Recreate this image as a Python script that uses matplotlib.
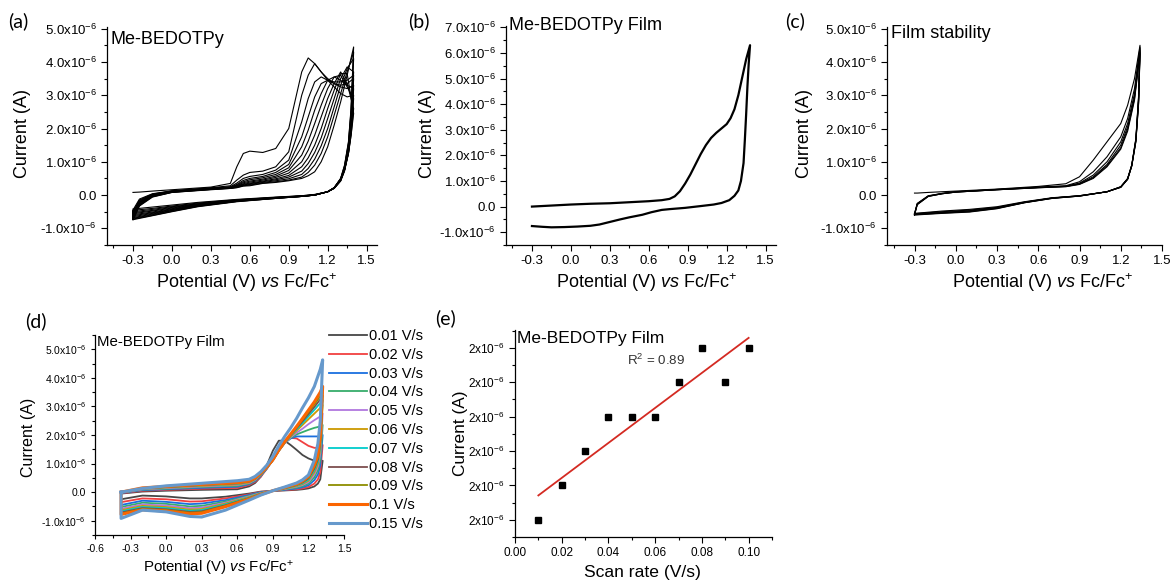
import numpy as np
import matplotlib
matplotlib.use('Agg')
import matplotlib.pyplot as plt
from matplotlib.ticker import MultipleLocator, FuncFormatter
from matplotlib.lines import Line2D

plt.rcParams['font.family'] = ['Liberation Sans', 'DejaVu Sans']
plt.rcParams['mathtext.fontset'] = 'custom'
plt.rcParams['mathtext.rm'] = 'Liberation Sans'
plt.rcParams['mathtext.it'] = 'Liberation Sans:italic'
plt.rcParams['mathtext.default'] = 'regular'

### DATA ######################################################################
# currents in units of 1e-6 A, potentials in V vs Fc/Fc+

# (a) electropolymerisation, 12 scans
Ea_fwd = [-0.30, -0.25, -0.15, 0.00, 0.30, 0.45, 0.50, 0.55, 0.60, 0.70, 0.80,
          0.90, 1.00, 1.05, 1.10, 1.15, 1.20, 1.25, 1.30, 1.35, 1.40]
Ia_fwd = [
    [0.08, 0.09, 0.12, 0.16, 0.24, 0.35, 0.85, 1.25, 1.32, 1.28, 1.40, 2.00, 3.70, 4.12, 3.95, 3.70, 3.45, 3.25, 3.05, 2.95, 3.00],
    [-0.45, -0.12, 0.04, 0.13, 0.22, 0.28, 0.45, 0.60, 0.68, 0.72, 0.85, 1.30, 3.00, 3.60, 3.95, 3.70, 3.50, 3.35, 3.25, 3.20, 3.30],
    [-0.50, -0.15, 0.03, 0.12, 0.21, 0.25, 0.36, 0.50, 0.56, 0.62, 0.75, 1.05, 2.20, 2.90, 3.40, 3.55, 3.45, 3.35, 3.30, 3.35, 3.50],
    [-0.53, -0.17, 0.02, 0.12, 0.20, 0.24, 0.32, 0.44, 0.50, 0.56, 0.68, 0.92, 1.75, 2.35, 2.95, 3.35, 3.45, 3.40, 3.40, 3.45, 3.60],
    [-0.56, -0.19, 0.01, 0.11, 0.20, 0.23, 0.30, 0.40, 0.46, 0.52, 0.62, 0.82, 1.45, 1.95, 2.55, 3.05, 3.45, 3.55, 3.45, 3.30, 3.20],
    [-0.59, -0.21, 0.00, 0.11, 0.19, 0.23, 0.28, 0.37, 0.42, 0.48, 0.57, 0.74, 1.20, 1.62, 2.15, 2.70, 3.20, 3.55, 3.60, 3.25, 2.90],
    [-0.62, -0.23, -0.01, 0.10, 0.19, 0.22, 0.27, 0.34, 0.39, 0.45, 0.53, 0.66, 1.00, 1.35, 1.80, 2.35, 2.90, 3.35, 3.70, 3.35, 2.60],
    [-0.65, -0.25, -0.02, 0.10, 0.18, 0.22, 0.26, 0.32, 0.36, 0.42, 0.49, 0.59, 0.85, 1.12, 1.50, 2.00, 2.60, 3.15, 3.65, 3.65, 2.45],
    [-0.68, -0.27, -0.03, 0.09, 0.18, 0.21, 0.25, 0.30, 0.34, 0.40, 0.46, 0.54, 0.72, 0.95, 1.28, 1.72, 2.30, 2.90, 3.50, 3.85, 3.70],
    [-0.70, -0.29, -0.04, 0.09, 0.17, 0.21, 0.24, 0.29, 0.32, 0.38, 0.43, 0.49, 0.62, 0.80, 1.08, 1.48, 2.00, 2.65, 3.30, 3.80, 4.10],
    [-0.72, -0.31, -0.05, 0.08, 0.17, 0.20, 0.23, 0.28, 0.30, 0.36, 0.40, 0.45, 0.54, 0.68, 0.90, 1.25, 1.75, 2.40, 3.05, 3.70, 4.30],
    [-0.74, -0.33, -0.06, 0.08, 0.16, 0.20, 0.22, 0.27, 0.28, 0.35, 0.38, 0.43, 0.50, 0.58, 0.70, 1.00, 1.45, 2.10, 2.80, 3.60, 4.45],
]
Ea_ret = [1.40, 1.38, 1.36, 1.33, 1.30, 1.25, 1.20, 1.10, 1.00, 0.80, 0.50, 0.20, 0.00, -0.15, -0.30]
Ia_ret = [
    [3.00, 1.90, 1.25, 0.72, 0.42, 0.20, 0.10, 0.02, -0.02, -0.06, -0.13, -0.22, -0.30, -0.36, -0.42],
    [3.30, 2.00, 1.30, 0.74, 0.43, 0.20, 0.10, 0.01, -0.02, -0.07, -0.14, -0.24, -0.33, -0.40, -0.46],
    [3.50, 2.10, 1.35, 0.76, 0.44, 0.21, 0.10, 0.01, -0.03, -0.07, -0.15, -0.26, -0.35, -0.43, -0.50],
    [3.60, 2.15, 1.38, 0.78, 0.45, 0.21, 0.10, 0.01, -0.03, -0.08, -0.15, -0.27, -0.37, -0.46, -0.53],
    [3.20, 2.00, 1.32, 0.77, 0.45, 0.21, 0.10, 0.00, -0.03, -0.08, -0.16, -0.28, -0.39, -0.48, -0.56],
    [2.90, 1.90, 1.28, 0.76, 0.45, 0.21, 0.10, 0.00, -0.03, -0.08, -0.16, -0.29, -0.41, -0.51, -0.59],
    [2.60, 1.80, 1.25, 0.76, 0.46, 0.22, 0.10, 0.00, -0.04, -0.09, -0.17, -0.30, -0.43, -0.53, -0.62],
    [2.45, 1.78, 1.25, 0.77, 0.47, 0.22, 0.10, 0.00, -0.04, -0.09, -0.17, -0.31, -0.44, -0.55, -0.65],
    [3.70, 2.30, 1.45, 0.82, 0.48, 0.22, 0.10, 0.00, -0.04, -0.09, -0.18, -0.32, -0.46, -0.57, -0.68],
    [4.10, 2.45, 1.52, 0.85, 0.49, 0.22, 0.10, 0.00, -0.04, -0.10, -0.19, -0.33, -0.47, -0.59, -0.70],
    [4.30, 2.55, 1.56, 0.88, 0.50, 0.22, 0.10, 0.00, -0.04, -0.10, -0.19, -0.34, -0.49, -0.61, -0.72],
    [4.45, 2.60, 1.60, 0.90, 0.50, 0.22, 0.10, 0.00, -0.04, -0.10, -0.20, -0.35, -0.50, -0.62, -0.74],
]

# (b) film CV
Eb_fwd = [-0.30, -0.15, 0.00, 0.15, 0.30, 0.45, 0.60, 0.70, 0.76, 0.80, 0.84, 0.88, 0.92, 0.96,
          1.00, 1.04, 1.08, 1.12, 1.16, 1.20, 1.23, 1.26, 1.29, 1.32, 1.35, 1.38]
Ib_fwd = [0.00, 0.04, 0.08, 0.11, 0.13, 0.17, 0.21, 0.25, 0.30, 0.40, 0.60, 0.90, 1.25, 1.65,
          2.05, 2.40, 2.68, 2.88, 3.05, 3.22, 3.45, 3.80, 4.35, 5.05, 5.75, 6.30]
Eb_ret = [1.38, 1.37, 1.36, 1.35, 1.34, 1.33, 1.31, 1.29, 1.26, 1.22, 1.16, 1.10, 1.00, 0.88,
          0.76, 0.70, 0.62, 0.55, 0.45, 0.38, 0.30, 0.22, 0.15, 0.05, -0.05, -0.15, -0.22, -0.30]
Ib_ret = [6.30, 5.60, 4.70, 3.60, 2.60, 1.70, 1.00, 0.63, 0.42, 0.25, 0.14, 0.08, 0.02, -0.05,
          -0.10, -0.13, -0.22, -0.32, -0.42, -0.50, -0.60, -0.70, -0.75, -0.78, -0.80, -0.81, -0.79, -0.76]

# (c) film stability, 6 scans
Ec_fwd = [-0.30, -0.28, -0.20, -0.10, 0.00, 0.30, 0.60, 0.80, 0.90, 1.00, 1.10, 1.20, 1.25, 1.30, 1.34]
Ic_fwd = [
    [0.06, 0.06, 0.08, 0.10, 0.12, 0.18, 0.26, 0.34, 0.55, 1.05, 1.60, 2.15, 2.70, 3.50, 4.50],
    [-0.56, -0.25, -0.02, 0.05, 0.10, 0.17, 0.24, 0.28, 0.40, 0.70, 1.15, 1.75, 2.30, 3.20, 4.45],
    [-0.57, -0.26, -0.03, 0.05, 0.10, 0.17, 0.23, 0.27, 0.36, 0.60, 1.00, 1.60, 2.15, 3.05, 4.40],
    [-0.58, -0.27, -0.03, 0.04, 0.09, 0.16, 0.23, 0.26, 0.34, 0.55, 0.92, 1.50, 2.05, 2.95, 4.35],
    [-0.59, -0.28, -0.04, 0.04, 0.09, 0.16, 0.22, 0.26, 0.33, 0.52, 0.88, 1.42, 1.98, 2.90, 4.30],
    [-0.60, -0.29, -0.04, 0.04, 0.09, 0.16, 0.22, 0.25, 0.32, 0.50, 0.85, 1.38, 1.92, 2.85, 4.25],
]
Ec_ret = [1.34, 1.33, 1.31, 1.28, 1.25, 1.20, 1.10, 0.90, 0.70, 0.50, 0.30, 0.10, -0.10, -0.30]
Ic_ret = [
    [4.50, 3.00, 1.70, 0.90, 0.50, 0.25, 0.10, -0.02, -0.08, -0.20, -0.35, -0.43, -0.48, -0.55],
    [4.45, 2.95, 1.68, 0.90, 0.49, 0.25, 0.10, -0.02, -0.09, -0.21, -0.37, -0.45, -0.50, -0.56],
    [4.40, 2.90, 1.66, 0.89, 0.49, 0.24, 0.10, -0.02, -0.09, -0.22, -0.38, -0.47, -0.52, -0.57],
    [4.35, 2.85, 1.64, 0.88, 0.48, 0.24, 0.10, -0.03, -0.09, -0.22, -0.39, -0.48, -0.53, -0.58],
    [4.30, 2.80, 1.62, 0.88, 0.48, 0.24, 0.10, -0.03, -0.10, -0.23, -0.40, -0.50, -0.54, -0.59],
    [4.25, 2.75, 1.60, 0.87, 0.47, 0.23, 0.10, -0.03, -0.10, -0.23, -0.41, -0.51, -0.55, -0.60],
]

# (d) scan-rate dependence
rates = ['0.01 V/s', '0.02 V/s', '0.03 V/s', '0.04 V/s', '0.05 V/s', '0.06 V/s',
         '0.07 V/s', '0.08 V/s', '0.09 V/s', '0.1 V/s', '0.15 V/s']
colors_d = ['#474747', '#F14040', '#1A6FDF', '#37AD6B', '#B177DE', '#CC9900',
            '#00CBCC', '#7D4E4E', '#8E8E00', '#FB6501', '#6699CC']
Ed_fwd = [-0.38, -0.20, 0.00, 0.30, 0.60, 0.70, 0.75, 0.80, 0.85, 0.90, 0.95, 1.00, 1.05,
          1.10, 1.15, 1.20, 1.25, 1.30, 1.32]
Id_fwd = [
    [-0.05, 0.02, 0.05, 0.08, 0.10, 0.20, 0.32, 0.55, 0.95, 1.45, 1.80, 1.80, 1.65, 1.48, 1.30, 1.18, 1.10, 1.05, 1.10],
    [-0.04, 0.05, 0.08, 0.12, 0.15, 0.25, 0.36, 0.55, 0.82, 1.15, 1.50, 1.78, 1.90, 1.88, 1.75, 1.62, 1.55, 1.55, 1.65],
    [-0.03, 0.07, 0.10, 0.15, 0.19, 0.28, 0.39, 0.58, 0.83, 1.12, 1.45, 1.72, 1.88, 1.95, 1.95, 1.95, 1.95, 1.95, 2.00],
    [-0.02, 0.09, 0.12, 0.18, 0.22, 0.30, 0.41, 0.60, 0.84, 1.12, 1.45, 1.72, 1.90, 2.02, 2.10, 2.18, 2.25, 2.30, 2.35],
    [-0.01, 0.10, 0.14, 0.20, 0.25, 0.32, 0.43, 0.62, 0.85, 1.12, 1.45, 1.72, 1.92, 2.08, 2.22, 2.38, 2.52, 2.65, 2.75],
    [0.00, 0.11, 0.16, 0.22, 0.27, 0.34, 0.45, 0.63, 0.86, 1.12, 1.45, 1.73, 1.95, 2.15, 2.35, 2.55, 2.75, 2.95, 3.05],
    [0.00, 0.12, 0.17, 0.24, 0.29, 0.36, 0.46, 0.64, 0.87, 1.12, 1.45, 1.74, 1.97, 2.20, 2.42, 2.65, 2.88, 3.12, 3.22],
    [0.00, 0.13, 0.18, 0.25, 0.31, 0.37, 0.47, 0.65, 0.87, 1.12, 1.46, 1.75, 1.99, 2.24, 2.48, 2.73, 2.98, 3.25, 3.38],
    [0.00, 0.14, 0.19, 0.26, 0.32, 0.38, 0.48, 0.66, 0.88, 1.12, 1.46, 1.76, 2.01, 2.27, 2.53, 2.80, 3.07, 3.36, 3.50],
    [0.00, 0.15, 0.20, 0.27, 0.33, 0.39, 0.49, 0.67, 0.89, 1.13, 1.47, 1.77, 2.03, 2.30, 2.58, 2.87, 3.16, 3.50, 3.70],
    [0.00, 0.13, 0.22, 0.31, 0.40, 0.45, 0.55, 0.72, 0.95, 1.25, 1.62, 1.95, 2.25, 2.58, 2.95, 3.30, 3.70, 4.30, 4.63],
]
Ed_ret = [1.32, 1.30, 1.28, 1.25, 1.20, 1.15, 1.10, 1.00, 0.90, 0.80, 0.70, 0.50, 0.30, 0.20, 0.00, -0.20, -0.38]
Id_ret = [
    [1.10, 0.45, 0.30, 0.20, 0.13, 0.10, 0.08, 0.06, 0.04, 0.02, -0.05, -0.16, -0.22, -0.22, -0.15, -0.12, -0.25],
    [1.65, 0.70, 0.45, 0.30, 0.18, 0.13, 0.10, 0.07, 0.05, 0.01, -0.08, -0.22, -0.32, -0.33, -0.25, -0.22, -0.35],
    [2.00, 0.95, 0.62, 0.42, 0.24, 0.17, 0.13, 0.08, 0.05, 0.00, -0.10, -0.28, -0.40, -0.42, -0.34, -0.30, -0.45],
    [2.35, 1.15, 0.77, 0.52, 0.30, 0.21, 0.16, 0.10, 0.05, -0.02, -0.13, -0.33, -0.48, -0.50, -0.41, -0.37, -0.52],
    [2.75, 1.35, 0.90, 0.62, 0.35, 0.25, 0.19, 0.11, 0.05, -0.03, -0.15, -0.37, -0.54, -0.56, -0.47, -0.43, -0.58],
    [3.05, 1.50, 1.00, 0.70, 0.40, 0.28, 0.21, 0.12, 0.05, -0.04, -0.17, -0.40, -0.59, -0.61, -0.52, -0.48, -0.63],
    [3.22, 1.62, 1.08, 0.77, 0.44, 0.31, 0.23, 0.13, 0.05, -0.05, -0.19, -0.43, -0.63, -0.65, -0.56, -0.52, -0.67],
    [3.38, 1.72, 1.15, 0.83, 0.48, 0.34, 0.25, 0.14, 0.05, -0.06, -0.21, -0.46, -0.67, -0.69, -0.60, -0.56, -0.71],
    [3.50, 1.82, 1.22, 0.88, 0.51, 0.36, 0.26, 0.15, 0.05, -0.07, -0.22, -0.48, -0.70, -0.72, -0.63, -0.59, -0.75],
    [3.70, 1.95, 1.30, 0.95, 0.55, 0.39, 0.28, 0.16, 0.05, -0.08, -0.24, -0.51, -0.74, -0.76, -0.66, -0.62, -0.78],
    [4.63, 2.50, 1.70, 1.12, 0.60, 0.43, 0.32, 0.18, 0.05, -0.10, -0.28, -0.63, -0.87, -0.85, -0.69, -0.63, -0.92],
]

# (e) peak current vs scan rate
scan_rate = [0.01, 0.02, 0.03, 0.04, 0.05, 0.06, 0.07, 0.08, 0.09, 0.10]
peak_current = [1.6, 1.7, 1.8, 1.9, 1.9, 1.9, 2.0, 2.1, 2.0, 2.1]

### FIGURE ####################################################################
W, H = 1172, 581
fig = plt.figure(figsize=(W / 100, H / 100), dpi=100)

def add_ax(l, t, r, b):
    ax = fig.add_axes([l / W, 1 - b / H, (r - l) / W, (b - t) / H])
    for s in ['top', 'right']:
        ax.spines[s].set_visible(False)
    for s in ['left', 'bottom']:
        ax.spines[s].set_linewidth(0.9)
    ax.tick_params(which='major', direction='out', length=4, width=0.8)
    ax.tick_params(which='minor', direction='out', length=2.5, width=0.8)
    return ax

def sci(v, pos):
    if abs(v) < 1e-9:
        return '0.0'
    return f'{v:.1f}x10$^{{-6}}$'

def cv_axis(ax, xlim, ylim, ymajor, fs):
    ax.set_xlim(*xlim)
    ax.set_ylim(*ylim)
    ax.xaxis.set_major_locator(MultipleLocator(0.3))
    ax.xaxis.set_minor_locator(MultipleLocator(0.15))
    ax.yaxis.set_major_locator(MultipleLocator(ymajor))
    ax.yaxis.set_minor_locator(MultipleLocator(ymajor / 2))
    ax.yaxis.set_major_formatter(FuncFormatter(sci))
    ax.xaxis.set_major_formatter(FuncFormatter(lambda v, p: f'{v:.1f}'))
    ax.tick_params(labelsize=fs)

def ftext(x, y, s, **kw):
    fig.text(x / W, 1 - y / H, s, **kw)

xlab = r'Potential (V) $\mathit{vs}$ Fc/Fc$^{+}$'

# (a)
ax_a = add_ax(107, 27, 377, 245)
for k in range(len(Ia_fwd)):
    ax_a.plot(Ea_fwd + Ea_ret, Ia_fwd[k] + Ia_ret[k], color='black', lw=0.8)
cv_axis(ax_a, (-0.5, 1.58), (-1.5, 5.05), 1.0, 9.5)
ax_a.set_xticks([-0.3, 0.0, 0.3, 0.6, 0.9, 1.2, 1.5])

# (b)
ax_b = add_ax(506, 26, 776, 245)
ax_b.plot(Eb_fwd + Eb_ret, Ib_fwd + Ib_ret, color='black', lw=1.6)
cv_axis(ax_b, (-0.5, 1.58), (-1.5, 7.05), 1.0, 9.5)
ax_b.set_xticks([-0.3, 0.0, 0.3, 0.6, 0.9, 1.2, 1.5])

# (c)
ax_c = add_ax(887, 27, 1162, 245)
for k in range(len(Ic_fwd)):
    ax_c.plot(Ec_fwd + Ec_ret, Ic_fwd[k] + Ic_ret[k], color='black', lw=0.8)
cv_axis(ax_c, (-0.5, 1.5), (-1.5, 5.05), 1.0, 9.5)
ax_c.set_xticks([-0.3, 0.0, 0.3, 0.6, 0.9, 1.2, 1.5])
for lab in ax_c.get_xticklabels():
    lab.set_clip_on(False)

# (d)
ax_d = add_ax(95, 335, 344, 535)
handles = []
for k in range(len(rates)):
    lw = 2.2 if k >= 9 else 1.3
    E = Ed_fwd + Ed_ret + [Ed_fwd[0]]
    I = Id_fwd[k] + Id_ret[k] + [Id_fwd[k][0]]
    ax_d.plot(E, I, color=colors_d[k], lw=lw)
    handles.append(Line2D([], [], color=colors_d[k], lw=lw, label=rates[k]))
cv_axis(ax_d, (-0.6, 1.5), (-1.5, 5.5), 1.0, 7.5)
ax_d.tick_params(which='major', length=3)
ax_d.tick_params(which='minor', length=2)
fig.legend(handles=handles, loc='upper left', bbox_to_anchor=(329 / W, 1 - 329 / H),
           frameon=False, fontsize=10.5, handlelength=2.6, handletextpad=0.15,
           labelspacing=0.33, borderpad=0, borderaxespad=0)

# (e)
ax_e = add_ax(515, 330, 772, 537)
slope, intercept = np.polyfit(scan_rate, peak_current, 1)
fit = np.polyval([slope, intercept], scan_rate)
r2 = 1 - np.sum((np.array(peak_current) - fit) ** 2) / np.sum((np.array(peak_current) - np.mean(peak_current)) ** 2)
ax_e.plot([scan_rate[0], scan_rate[-1]], np.polyval([slope, intercept], [scan_rate[0], scan_rate[-1]]),
          color='#D42A22', lw=1.3)
ax_e.plot(scan_rate, peak_current, 's', color='black', ms=4.2)
ax_e.set_xlim(0, 0.11)
ax_e.set_ylim(1.55, 2.152)
ax_e.xaxis.set_major_locator(MultipleLocator(0.02))
ax_e.xaxis.set_minor_locator(MultipleLocator(0.01))
ax_e.yaxis.set_major_locator(MultipleLocator(0.1))
ax_e.yaxis.set_minor_locator(MultipleLocator(0.05))
ax_e.xaxis.set_major_formatter(FuncFormatter(lambda v, p: f'{v:.2f}'))
ax_e.yaxis.set_major_formatter(FuncFormatter(lambda v, p: f'{v:.0f}x10$^{{-6}}$'))
ax_e.tick_params(labelsize=8.5)
ftext(627, 365, f'R$^{{2}}$ = {r2:.2f}', fontsize=9.6, va='baseline', color='#333333')

# annotations inside panels
ftext(111, 44, 'Me-BEDOTPy', fontsize=13, va='baseline')
ftext(509, 30, 'Me-BEDOTPy Film', fontsize=13, va='baseline')
ftext(891, 38, 'Film stability', fontsize=13, va='baseline')
ftext(97, 346, 'Me-BEDOTPy Film', fontsize=10.8, va='baseline')
ftext(517, 343, 'Me-BEDOTPy Film', fontsize=12.5, va='baseline')

# panel letters
for lab, x, y in [('(a)', 8, 21), ('(b)', 408, 21), ('(c)', 785, 21), ('(d)', 25, 321), ('(e)', 435, 318)]:
    ftext(x, y, lab, fontsize=14, family='Lato', ha='left', va='center')

# axis labels
for x, y in [(23, 133), (428, 133), (805, 133)]:
    ftext(x, y, 'Current (A)', fontsize=13, rotation=90, ha='center', va='center')
for x, y in [(246, 283), (646, 283), (1042, 283)]:
    ftext(x, y, xlab, fontsize=13, ha='center', va='center')
ftext(28, 437, 'Current (A)', fontsize=11.5, rotation=90, ha='center', va='center')
ftext(219, 568, xlab, fontsize=10.8, ha='center', va='center')
ftext(460, 433, 'Current (A)', fontsize=12.4, rotation=90, ha='center', va='center')
ftext(643, 573, 'Scan rate (V/s)', fontsize=12.6, ha='center', va='center')

fig.savefig('out.png', dpi=100)
